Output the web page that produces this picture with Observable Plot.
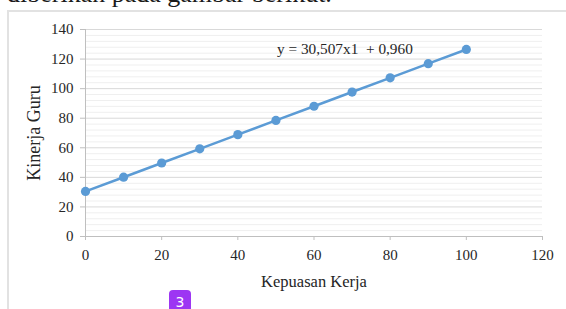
<!DOCTYPE html>
<html>
<head>
<meta charset="utf-8">
<script src="https://cdn.jsdelivr.net/npm/d3@7"></script>
<script src="https://cdn.jsdelivr.net/npm/@observablehq/plot@0.6"></script>
<style>
  html, body { margin: 0; padding: 0; background: #fff; overflow: hidden; }
  #wrap { position: relative; width: 566px; height: 309px; overflow: hidden; }
  #intro { position: absolute; left: 7px; top: -19px; font: 26px/1 "Liberation Serif", serif; color: #1a1a1a; white-space: nowrap; }
  #frame { position: absolute; left: 7px; top: 10px; width: 600px; height: 320px; border-top: 2px solid #e2e2e2; border-left: 2px solid #e2e2e2; box-sizing: border-box; }
  #chart { position: absolute; left: 0; top: 0; }
  #eq { position: absolute; left: 277px; top: 41px; font: 15.3px/1 "Liberation Serif", serif; color: #262626; white-space: pre; }
  #badge { position: absolute; left: 169px; top: 290px; width: 22px; height: 30px; background: #9d36f3; border-radius: 4px; color: #fff; font: 14px/1 "DejaVu Sans", sans-serif; text-align: center; padding-top: 5px; box-sizing: border-box; }
</style>
</head>
<body>
<div id="wrap">
  <div id="intro">diberikan pada gambar berikut.</div>
  <div id="frame"></div>
  <div id="chart"></div>
  <div id="eq">y = 30,507x1  + 0,960</div>
  <div id="badge">3</div>
</div>
<script>
const kepuasan = [0, 10, 20, 30, 40, 50, 60, 70, 80, 90, 100];
const kinerja = [30.5, 40.1, 49.7, 59.3, 68.9, 78.5, 88.1, 97.7, 107.3, 116.9, 126.5];
const xTicks = [0, 20, 40, 60, 80, 100, 120];
const yTicks = [0, 20, 40, 60, 80, 100, 120, 140];
const yMinor = d3.range(4, 140, 4).filter(v => v % 20 !== 0);

const data = kepuasan.map((x, i) => ({x, y: kinerja[i]}));

const chart = Plot.plot({
  width: 566,
  height: 309,
  marginLeft: 85,
  marginRight: 24,
  marginTop: 29,
  marginBottom: 73,
  style: { fontFamily: "Liberation Serif, serif", fontSize: "15px", color: "#262626", background: "transparent", overflow: "visible" },
  x: { domain: [0, 120] },
  y: { domain: [0, 140] },
  marks: [
    Plot.ruleY(yMinor, { stroke: "#efefef", strokeWidth: 1 }),
    Plot.ruleY(yTicks, { stroke: "#d9d9d9", strokeWidth: 1 }),
    Plot.axisX({ ticks: xTicks, tickSize: 4, tickPadding: 9, stroke: "#bfbfbf", label: "Kepuasan Kerja", labelAnchor: "center", labelArrow: "none", labelOffset: 50, fontSize: 15 }),
    Plot.axisY({ ticks: yTicks, tickSize: 5, tickPadding: 7, stroke: "#bfbfbf", label: "Kinerja Guru", labelAnchor: "center", labelArrow: "none", labelOffset: 58, fontSize: 15 }),
    Plot.ruleX([0], { stroke: "#bfbfbf" }),
    Plot.ruleY([0], { stroke: "#bfbfbf" }),
    Plot.line(data, { x: "x", y: "y", stroke: "#5b9bd5", strokeWidth: 2.5 }),
    Plot.dot(data, { x: "x", y: "y", r: 4.6, fill: "#5b9bd5" })
  ]
});
chart.querySelectorAll('g[aria-label="x-axis label"] text').forEach(t => t.setAttribute("font-size", "16.5"));
chart.querySelectorAll('g[aria-label="y-axis label"] text').forEach(t => t.setAttribute("font-size", "18"));
document.getElementById("chart").appendChild(chart);
</script>
</body>
</html>
